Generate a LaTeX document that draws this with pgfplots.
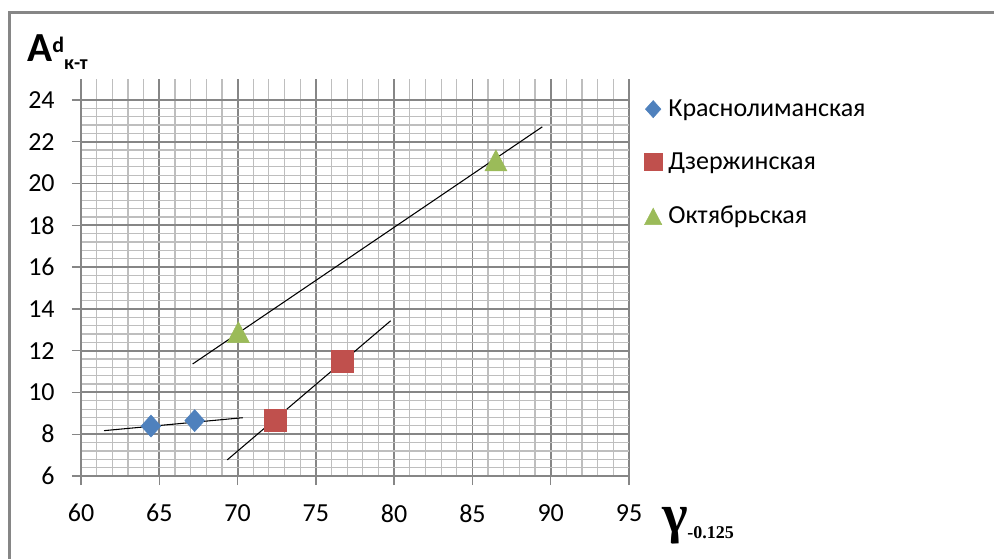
\documentclass[border=0pt]{standalone}
\usepackage{fontspec}
\setmainfont{Carlito}
\newfontfamily\serif{Liberation Serif}
\usepackage{pgfplots}
\pgfplotsset{compat=1.18}
\definecolor{xblue}{RGB}{79,129,189}
\definecolor{xred}{RGB}{192,80,77}
\definecolor{xgreen}{RGB}{155,187,89}
\definecolor{majgrid}{RGB}{134,134,134}
\definecolor{mingrid}{RGB}{190,190,190}
\begin{document}
\begin{tikzpicture}
\path[use as bounding box, x=0.75pt, y=0.75pt] (-81,-83) rectangle (913,476);
\begin{axis}[
  at={(0,0)}, anchor=south west,
  scale only axis, width=411pt, height=297.75pt,
  xmin=60, xmax=95, ymin=6, ymax=25,
  xtick={60,65,...,95}, ytick={6,8,...,24},
  minor x tick num=4,
  minor ytick={6.4,6.8,...,23.7},
  grid=both,
  major grid style={draw=majgrid, line width=1.4pt},
  minor grid style={draw=mingrid, line width=0.9pt},
  axis x line*=bottom, axis y line*=left,
  axis line style={draw=majgrid, line width=1.2pt, -},
  tick align=outside, major tick length=6.75pt, minor tick length=0pt,
  tick style={draw=majgrid, line width=1pt},
  ticklabel style={font=\fontsize{19.5}{23}\selectfont},
  yticklabel style={xshift=-9.5pt},
  xticklabel style={yshift=-11pt},
  /pgf/number format/assume math mode=true,
  legend style={at={(axis description cs:1.028,0.955)}, anchor=north west, draw=none, fill=none,
    inner sep=0pt, row sep=21.6pt, font=\fontsize{19.5}{23}\selectfont,
    /tikz/every odd column/.append style={column sep=3pt}},
  legend cell align=left,
  legend image code/.code={\draw[#1, only marks, every mark/.append style={scale=0.78}] plot coordinates {(0pt,0pt)};},
]
\addplot[only marks, mark=diamond*, mark size=8.25pt, mark options={xscale=1.2, fill=xblue, draw=xblue}]
  coordinates {(64.47,8.39) (67.26,8.65)};
\addlegendentry{Краснолиманская}
\addplot[only marks, mark=square*, mark size=8.25pt, mark options={fill=xred, draw=xred}]
  coordinates {(72.39,8.68) (76.71,11.47)};
\addlegendentry{Дзержинская}
\addplot[only marks, mark=triangle*, mark size=9.5pt, mark options={yscale=1.1, yshift=-2.6pt, fill=xgreen, draw=xgreen}]
  coordinates {(70.05,12.9) (86.5,21.12)};
\addlegendentry{Октябрьская}
\addplot[black, line width=0.8pt, forget plot] coordinates {(61.47,8.17) (70.33,8.79)};
\addplot[black, line width=0.8pt, forget plot] coordinates {(69.34,6.77) (79.78,13.43)};
\addplot[black, line width=0.8pt, forget plot] coordinates {(67.13,11.36) (89.46,22.71)};
\end{axis}
\begin{scope}[x=0.75pt,y=0.75pt]
\draw[majgrid, line width=2.25pt] (-71,-83) -- (-71,463.5) -- (913,463.5);
\node[anchor=base west, inner sep=0pt] at (-54,414) {\fontsize{31}{34}\selectfont\bfseries A\raisebox{7pt}{\fontsize{16.5}{18}\selectfont d}\raisebox{-6pt}{\fontsize{15}{17}\selectfont к-т}};
\node[anchor=base west, inner sep=0pt] at (581,-57) {\serif\bfseries\fontsize{41}{41}\selectfont γ};
\node[anchor=base west, inner sep=0pt] at (606,-63) {\serif\bfseries\fontsize{13.5}{15}\selectfont -0.125};
\end{scope}
\end{tikzpicture}
\end{document}
